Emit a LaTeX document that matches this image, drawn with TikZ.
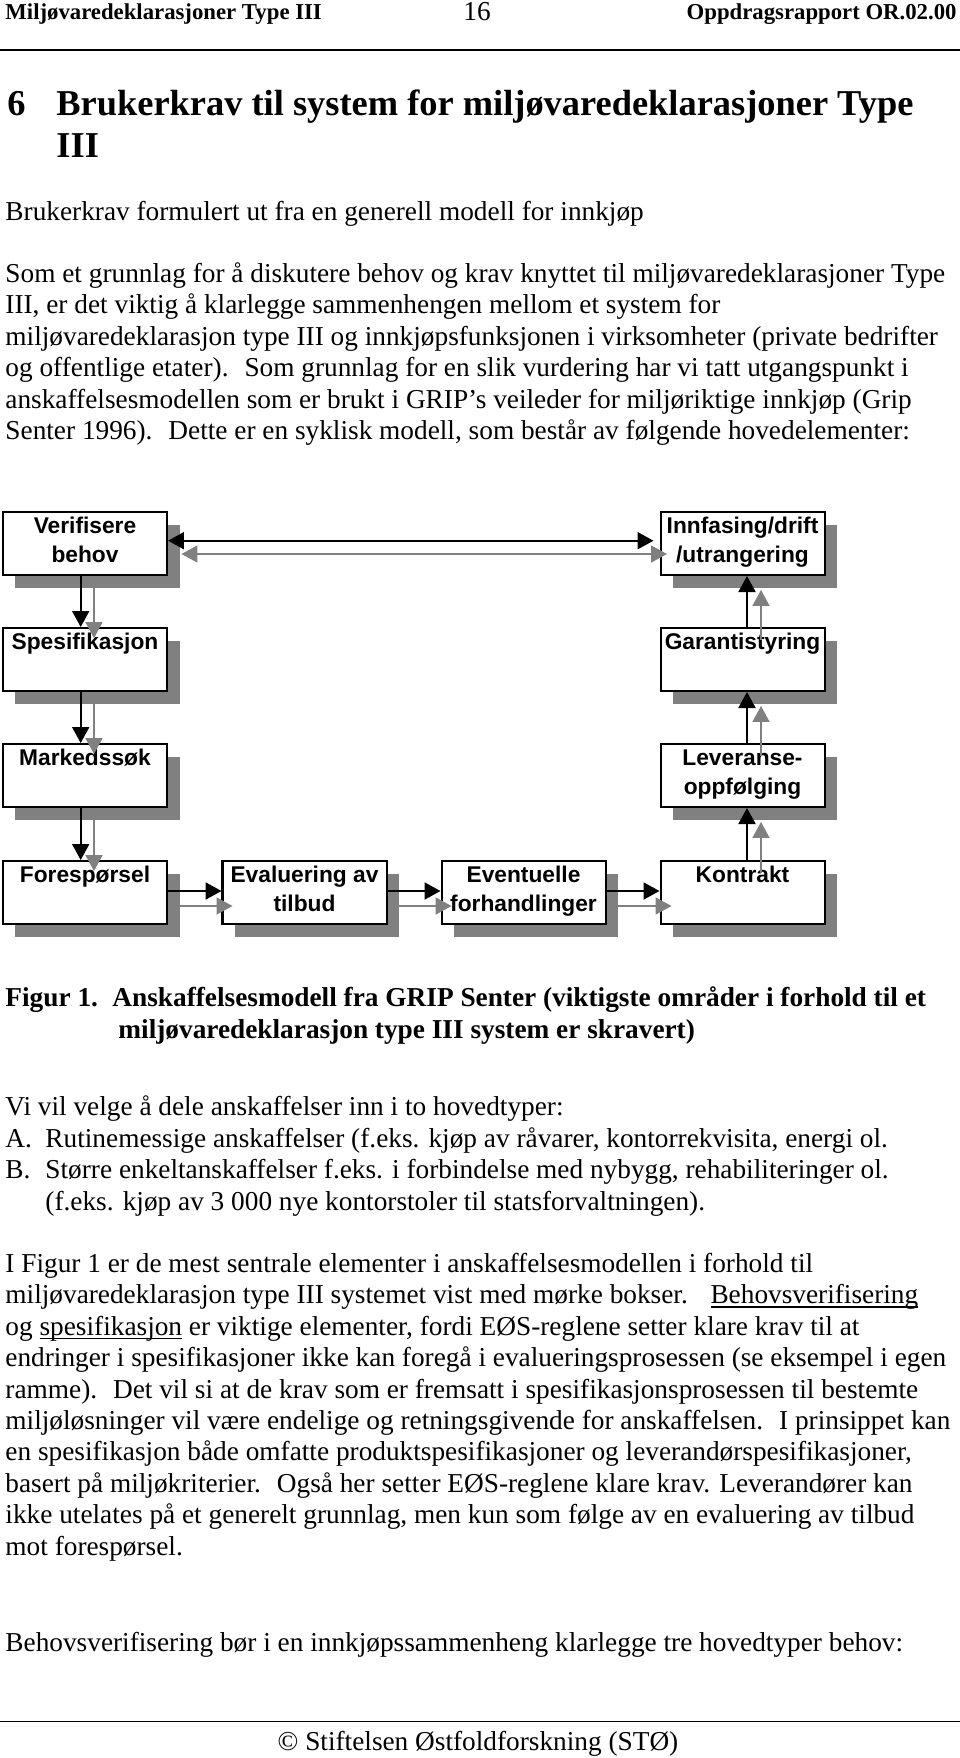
\documentclass[tikz,border=0pt]{standalone}
\usepackage{fontspec}
\setmainfont{Liberation Serif}
\newfontfamily\arialf{Liberation Sans}
\usetikzlibrary{arrows.meta,calc}
\definecolor{shgray}{RGB}{128,128,128}
\newcommand\undl[1]{\leavevmode\setbox0\hbox{#1}\rlap{\rule[-1.6pt]{\wd0}{0.6pt}}\box0\relax}
\begin{document}
\begin{tikzpicture}[x=0.43956pt,y=-0.43956pt,
  box/.style={draw=black,line width=0.88pt,fill=white,minimum width=72.09pt,minimum height=27.69pt,inner sep=0pt},
  shbox/.style={fill=shgray,minimum width=72.09pt,minimum height=27.69pt,inner sep=0pt},
  lbl/.style={font=\arialf\bfseries\fontsize{10}{12.6}\selectfont,align=center,anchor=north,inner sep=0pt},
  txt/.style={anchor=base west,inner sep=0pt,font=\fontsize{12}{13.8}\selectfont},
  btxt/.style={anchor=base west,inner sep=0pt,font=\bfseries\fontsize{12}{13.8}\selectfont},
  hdr/.style={inner sep=0pt,font=\bfseries\fontsize{10}{12}\selectfont},
  barrow/.style={draw=black,line width=0.88pt,-{Triangle[length=7.03pt,width=7.47pt]}},
  garrow/.style={draw=shgray,line width=0.66pt,-{Triangle[length=7.03pt,width=7.47pt]}},
  bdarrow/.style={draw=black,line width=0.88pt,{Triangle[length=7.03pt,width=7.47pt]}-{Triangle[length=7.03pt,width=7.47pt]}},
  gdarrow/.style={draw=shgray,line width=0.66pt,{Triangle[length=7.03pt,width=7.47pt]}-{Triangle[length=7.03pt,width=7.47pt]}},
]
\useasboundingbox[fill=white] (0,0) rectangle (960,1758);

% ---------- header ----------
\node[hdr,anchor=base west] (hl) at (5,19) {Miljøvaredeklarasjoner Type III};
\node[inner sep=0pt,anchor=base,font=\fontsize{12}{14}\selectfont] (hn) at (477,20) {16};
\node[hdr,anchor=base east] (hr) at (957,19) {Oppdragsrapport OR.02.00};
\draw[line width=0.88pt] (0,50) -- (960,50);

% ---------- title ----------
\node[anchor=base west,inner sep=0pt,font=\bfseries\fontsize{16}{18.4}\selectfont] (t0) at (7,115) {6};
\node[anchor=base west,inner sep=0pt,font=\bfseries\fontsize{16}{18.4}\selectfont] (t1) at (56,115) {Brukerkrav til system for miljøvaredeklarasjoner Type};
\node[anchor=base west,inner sep=0pt,font=\bfseries\fontsize{16}{18.4}\selectfont] (t2) at (56,157) {III};

\node[txt] (sub) at (5,220) {Brukerkrav formulert ut fra en generell modell for innkjøp};

% ---------- paragraph 1 ----------
\node[txt] (a1) at (5,282.5) {Som et grunnlag for å diskutere behov og krav knyttet til miljøvaredeklarasjoner Type};
\node[txt] (a2) at (5,313.9) {III, er det viktig å klarlegge sammenhengen mellom et system for};
\node[txt] (a3) at (5,345.3) {miljøvaredeklarasjon type III og innkjøpsfunksjonen i virksomheter (private bedrifter};
\node[txt] (a4) at (5,376.7) {og offentlige etater).~ Som grunnlag for en slik vurdering har vi tatt utgangspunkt i};
\node[txt] (a5) at (5,408.1) {anskaffelsesmodellen som er brukt i GRIP’s veileder for miljøriktige innkjøp (Grip};
\node[txt] (a6) at (5,439.5) {Senter 1996).~ Dette er en syklisk modell, som består av følgende hovedelementer:};

% ---------- diagram: shadows ----------
\node[shbox] (verifS) at (97.5,556) {};
\node[shbox] (spesS)  at (97.5,672) {};
\node[shbox] (markS)  at (97.5,788) {};
\node[shbox] (foreS)  at (97.5,905) {};
\node[shbox] (evalS)  at (317,905) {};
\node[shbox] (eventS) at (536,905) {};
\node[shbox] (kontrS) at (755,905) {};
\node[shbox] (levS)   at (755,788) {};
\node[shbox] (garS)   at (755,672) {};
\node[shbox] (innS)   at (755,556) {};

% ---------- diagram: boxes ----------
\node[box] (verif) at (85,543.5) {};
\node[box] (spes)  at (85,659.5) {};
\node[box] (mark)  at (85,775.5) {};
\node[box] (fore)  at (85,892.5) {};
\node[box] (eval)  at (304.5,892.5) {};
\node[box] (event) at (523.5,892.5) {};
\node[box] (kontr) at (742.5,892.5) {};
\node[box] (lev)   at (742.5,775.5) {};
\node[box] (gar)   at (742.5,659.5) {};
\node[box] (inn)   at (742.5,543.5) {};

% ---------- diagram: labels ----------
\node[lbl] (verifT) at ($(verif.north)+(0,3.8)$) {\rule{0pt}{8pt}Verifisere\\behov};
\node[lbl] (spesT)  at ($(spes.north)+(0,3.8)$)  {\rule{0pt}{8pt}Spesifikasjon};
\node[lbl] (markT)  at ($(mark.north)+(0,3.8)$)  {\rule{0pt}{8pt}Markedssøk};
\node[lbl] (foreT)  at ($(fore.north)+(0,3.8)$)  {\rule{0pt}{8pt}Forespørsel};
\node[lbl] (evalT)  at ($(eval.north)+(0,3.8)$)  {\rule{0pt}{8pt}Evaluering av\\tilbud};
\node[lbl] (eventT) at ($(event.north)+(0,3.8)$) {\rule{0pt}{8pt}Eventuelle\\forhandlinger};
\node[lbl] (kontrT) at ($(kontr.north)+(0,3.8)$) {\rule{0pt}{8pt}Kontrakt};
\node[lbl] (levT)   at ($(lev.north)+(0,3.8)$)   {\rule{0pt}{8pt}Leveranse-\\oppfølging};
\node[lbl] (garT)   at ($(gar.north)+(0,3.8)$)   {\rule{0pt}{8pt}Garantistyring};
\node[lbl] (innT)   at ($(inn.north)+(0,3.8)$)   {\rule{0pt}{8pt}Innfasing/drift\\/utrangering};

% ---------- diagram: black connectors ----------
\draw[bdarrow] ($(verif.east)+(0,-2.8)$) -- ($(inn.west)+(-6,-2.8)$);
\draw[barrow] ($(verif.south)+(-4.3,0)$) -- ($(spes.north)+(-4.3,0)$);
\draw[barrow] ($(spes.south)+(-4.3,0)$) -- ($(mark.north)+(-4.3,0)$);
\draw[barrow] ($(mark.south)+(-4.3,0)$) -- ($(fore.north)+(-4.3,0)$);
\draw[barrow] ($(fore.east)+(0,-1.5)$) -- ($(eval.west)+(0,-1.5)$);
\draw[barrow] ($(eval.east)+(0,-1.5)$) -- ($(event.west)+(0,-1.5)$);
\draw[barrow] ($(event.east)+(0,-1.5)$) -- ($(kontr.west)+(0,-1.5)$);
\draw[barrow] ($(kontr.north)+(4.5,0)$) -- ($(lev.south)+(4.5,0)$);
\draw[barrow] ($(lev.north)+(4.5,0)$) -- ($(gar.south)+(4.5,0)$);
\draw[barrow] ($(gar.north)+(4.5,0)$) -- ($(inn.south)+(4.5,0)$);

% ---------- diagram: grey connectors ----------
\draw[gdarrow] ($(verifS.east)+(1.5,-2)$) -- ($(innS.west)+(-5.5,-2)$);
\draw[garrow] ($(verifS.south)+(-3.5,0)$) -- ($(spesS.north)+(-3.5,-2)$);
\draw[garrow] ($(spesS.south)+(-3.5,0)$) -- ($(markS.north)+(-3.5,-2)$);
\draw[garrow] ($(markS.south)+(-3.5,0)$) -- ($(foreS.north)+(-3.5,-2)$);
\draw[garrow] ($(foreS.east)+(0,1)$) -- ($(evalS.west)+(-2,1)$);
\draw[garrow] ($(evalS.east)+(0,1)$) -- ($(eventS.west)+(-2,1)$);
\draw[garrow] ($(eventS.east)+(0,1)$) -- ($(kontrS.west)+(-1,1)$);
\draw[garrow] ($(kontrS.north)+(6,0)$) -- ($(levS.south)+(6,2)$);
\draw[garrow] ($(levS.north)+(6,0)$) -- ($(garS.south)+(6,2)$);
\draw[garrow] ($(garS.north)+(6,0)$) -- ($(innS.south)+(6,2)$);

% ---------- caption ----------
\node[btxt] (c0) at (5,1006.5) {Figur 1.};
\node[btxt] (c1) at (112,1006.5) {Anskaffelsesmodell fra GRIP Senter (viktigste områder i forhold til et};
\node[btxt] (c2) at (118,1038) {miljøvaredeklarasjon type III system er skravert)};

% ---------- list ----------
\node[txt] (l0) at (5,1115.5) {Vi vil velge å dele anskaffelser inn i to hovedtyper:};
\node[txt] (lAm) at (5,1147) {A.};
\node[txt] (lA) at (45,1147) {Rutinemessige anskaffelser (f.eks. kjøp av råvarer, kontorrekvisita, energi ol.};
\node[txt] (lBm) at (5,1178.5) {B.};
\node[txt] (lB) at (45,1178.5) {Større enkeltanskaffelser f.eks. i forbindelse med nybygg, rehabiliteringer ol.};
\node[txt] (lB2) at (45,1210) {(f.eks. kjøp av 3 000 nye kontorstoler til statsforvaltningen).};

% ---------- paragraph 2 ----------
\node[txt] (b1) at (5,1272.5) {I Figur 1 er de mest sentrale elementer i anskaffelsesmodellen i forhold til};
\node[txt] (b2) at (5,1303.9) {miljøvaredeklarasjon type III systemet vist med mørke bokser.~~ \undl{Behovsverifisering}};
\node[txt] (b3) at (5,1335.3) {og \undl{spesifikasjon} er viktige elementer, fordi EØS-reglene setter klare krav til at};
\node[txt] (b4) at (5,1366.7) {endringer i spesifikasjoner ikke kan foregå i evalueringsprosessen (se eksempel i egen};
\node[txt] (b5) at (5,1398.1) {ramme).~ Det vil si at de krav som er fremsatt i spesifikasjonsprosessen til bestemte};
\node[txt] (b6) at (5,1429.5) {miljøløsninger vil være endelige og retningsgivende for anskaffelsen.~ I prinsippet kan};
\node[txt] (b7) at (5,1460.9) {en spesifikasjon både omfatte produktspesifikasjoner og leverandørspesifikasjoner,};
\node[txt] (b8) at (5,1492.3) {basert på miljøkriterier.~ Også her setter EØS-reglene klare krav. Leverandører kan};
\node[txt] (b9) at (5,1523.7) {ikke utelates på et generelt grunnlag, men kun som følge av en evaluering av tilbud};
\node[txt] (b10) at (5,1555.1) {mot forespørsel.};

\node[txt] (d1) at (5,1651.5) {Behovsverifisering bør i en innkjøpssammenheng klarlegge tre hovedtyper behov:};

% ---------- footer ----------
\draw[line width=0.62pt] (0,1721.7) -- (960,1721.7);
\node[inner sep=0pt,anchor=base,font=\fontsize{12}{13.8}\selectfont] (foot) at (478,1750) {© Stiftelsen Østfoldforskning (STØ)};
\end{tikzpicture}
\end{document}
